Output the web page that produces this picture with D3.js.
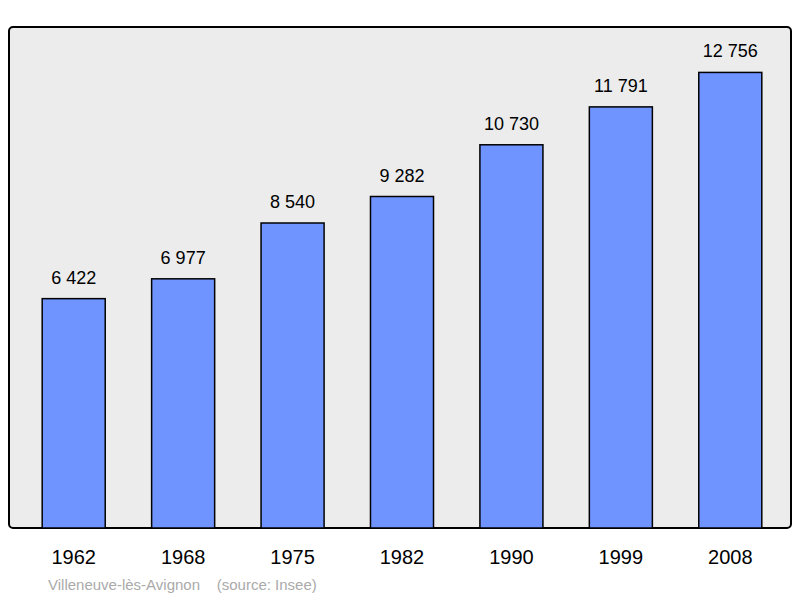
<!DOCTYPE html>
<html><head><meta charset="utf-8">
<script src="https://cdn.jsdelivr.net/npm/d3@7"></script>
<style>body{margin:0;background:#fff}</style></head>
<body><svg id="c" width="800" height="598"></svg>
<script>
const years = ["1962","1968","1975","1982","1990","1999","2008"];
const population = [6422,6977,8540,9282,10730,11791,12756];
const labels = ["6 422","6 977","8 540","9 282","10 730","11 791","12 756"];
const svg = d3.select("#c");
svg.append("rect").attr("x",9).attr("y",27).attr("width",782).attr("height",501)
  .attr("rx",4).attr("fill","#ececec").attr("stroke","#000").attr("stroke-width",2);
const x = d3.scaleBand().domain(years).range([19,785]).paddingInner(0.424).paddingOuter(0.212);
const y = d3.scaleLinear().domain([0,14000]).range([528,28]);
svg.selectAll(".bar").data(population).join("rect")
  .attr("x",(d,i)=>x(years[i])).attr("y",d=>y(d))
  .attr("width",x.bandwidth()).attr("height",d=>528-y(d))
  .attr("fill","#7094ff").attr("stroke","#000").attr("stroke-width",1.5);
svg.selectAll(".v").data(population).join("text")
  .attr("x",(d,i)=>x(years[i])+x.bandwidth()/2).attr("y",d=>y(d)-15)
  .attr("text-anchor","middle").attr("font-family","Liberation Sans, Arial").attr("font-size",18)
  .text((d,i)=>labels[i]);
svg.selectAll(".yr").data(years).join("text")
  .attr("x",d=>x(d)+x.bandwidth()/2).attr("y",564)
  .attr("text-anchor","middle").attr("font-family","Liberation Sans, Arial").attr("font-size",20)
  .text(d=>d);
svg.append("text").attr("x",48).attr("y",590).attr("fill","#aaa")
  .attr("font-family","Liberation Sans, Arial").attr("font-size",15)
  .attr("xml:space","preserve").text("Villeneuve-lès-Avignon    (source: Insee)");
</script></body></html>
